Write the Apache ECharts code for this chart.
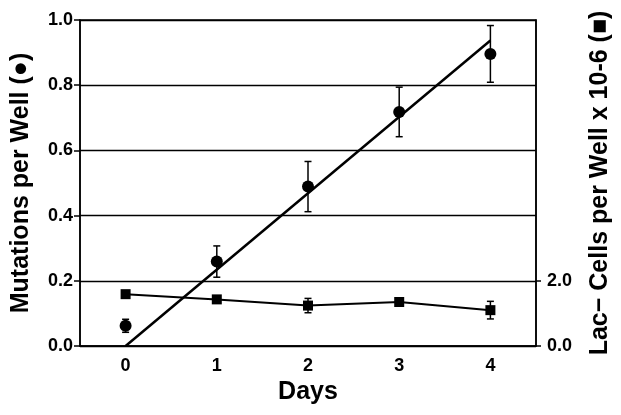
<!DOCTYPE html>
<html>
<head>
<meta charset="utf-8">
<script src="https://cdn.jsdelivr.net/npm/echarts@6/dist/echarts.min.js"></script>
<style>html,body{margin:0;padding:0;background:#fff}#c{width:621px;height:415px}</style>
</head>
<body>
<div id="c"></div>
<script>
// ---- data ----
var days = ['0', '1', '2', '3', '4'];
var mutations = [0.062, 0.259, 0.489, 0.718, 0.896];
var mutationsErr = [0.02, 0.048, 0.077, 0.076, 0.087];
var fitLine = [[0, 0.0], [4, 0.937]];
var lacCells = [1.59, 1.43, 1.24, 1.35, 1.10];
var lacCellsErr = [0.08, 0.08, 0.22, 0.08, 0.27];
var leftTicks = [0, 0.2, 0.4, 0.6, 0.8, 1.0];
var rightTicks = [0, 2];

var FONT = "'Liberation Sans', Arial, sans-serif";

function errData(vals, errs) {
  return vals.map(function (v, i) { return [i, v - errs[i], v + errs[i]]; });
}
function errRender(params, api) {
  var x = api.value(0);
  var lo = api.coord([x, api.value(1)]);
  var hi = api.coord([x, api.value(2)]);
  var cw = 3.5;
  var st = { stroke: '#000', lineWidth: 1.5 };
  return {
    type: 'group',
    children: [
      { type: 'line', shape: { x1: lo[0], y1: lo[1], x2: hi[0], y2: hi[1] }, style: st },
      { type: 'line', shape: { x1: lo[0] - cw, y1: lo[1], x2: lo[0] + cw, y2: lo[1] }, style: st },
      { type: 'line', shape: { x1: hi[0] - cw, y1: hi[1], x2: hi[0] + cw, y2: hi[1] }, style: st }
    ]
  };
}

var chart = echarts.init(document.getElementById('c'), null, { renderer: 'canvas' });
chart.setOption({
  animation: false,
  backgroundColor: '#fff',
  grid: { left: 80, right: 84, top: 20, bottom: 69, show: true, borderColor: '#000', borderWidth: 1.5 },
  xAxis: {
    type: 'category',
    data: days,
    boundaryGap: true,
    axisLine: { lineStyle: { color: '#000', width: 1.5 } },
    axisTick: { show: false },
    axisLabel: { color: '#000', fontWeight: 'bold', fontSize: 18, fontFamily: FONT, margin: 11 },
    name: 'Days',
    nameLocation: 'middle',
    nameGap: 33,
    nameTextStyle: { color: '#000', fontWeight: 'bold', fontSize: 25, fontFamily: FONT }
  },
  yAxis: [
    {
      type: 'value',
      min: 0, max: 1, interval: 0.2,
      axisLine: { show: true, lineStyle: { color: '#000', width: 1.5 } },
      axisTick: { show: true, length: 6, lineStyle: { color: '#000', width: 1.5 } },
      axisLabel: { color: '#000', fontWeight: 'bold', fontSize: 18, fontFamily: FONT, margin: 7,
        formatter: function (v) { return v.toFixed(1); } },
      splitLine: { show: true, lineStyle: { color: '#000', width: 1.3 } },
      name: 'Mutations per Well (\u25CF)',
      nameLocation: 'middle',
      nameRotate: 90,
      nameGap: 46,
      nameTextStyle: { color: '#000', fontWeight: 'bold', fontSize: 25, fontFamily: FONT }
    },
    {
      type: 'value',
      position: 'right',
      min: 0, max: 10,
      axisLine: { show: true, lineStyle: { color: '#000', width: 1.5 } },
      axisTick: { show: true, length: 5, customValues: rightTicks, lineStyle: { color: '#000', width: 1.5 } },
      axisLabel: { color: '#000', fontWeight: 'bold', fontSize: 18, fontFamily: FONT, margin: 11,
        customValues: rightTicks,
        formatter: function (v) { return v.toFixed(1); } },
      splitLine: { show: false },
      name: 'Lac\u2212 Cells per Well x 10-6 (\u25A0)',
      nameLocation: 'middle',
      nameRotate: 90,
      nameGap: 52,
      nameTextStyle: { color: '#000', fontWeight: 'bold', fontSize: 25, fontFamily: FONT }
    }
  ],
  series: [
    {
      type: 'line', yAxisIndex: 0, data: fitLine, showSymbol: false, symbol: 'none',
      lineStyle: { color: '#000', width: 2.5 }, z: 3
    },
    {
      type: 'custom', yAxisIndex: 0, renderItem: errRender, data: errData(mutations, mutationsErr), z: 4
    },
    {
      type: 'scatter', yAxisIndex: 0, data: mutations.map(function (v, i) { return [i, v]; }),
      symbol: 'circle', symbolSize: 12, itemStyle: { color: '#000', opacity: 1 }, z: 5
    },
    {
      type: 'custom', yAxisIndex: 1, renderItem: errRender, data: errData(lacCells, lacCellsErr), z: 4
    },
    {
      type: 'line', yAxisIndex: 1, data: lacCells.map(function (v, i) { return [i, v]; }),
      symbol: 'rect', symbolSize: 10, showSymbol: true,
      lineStyle: { color: '#000', width: 2 }, itemStyle: { color: '#000', opacity: 1 }, z: 5
    }
  ]
});
</script>
</body>
</html>
